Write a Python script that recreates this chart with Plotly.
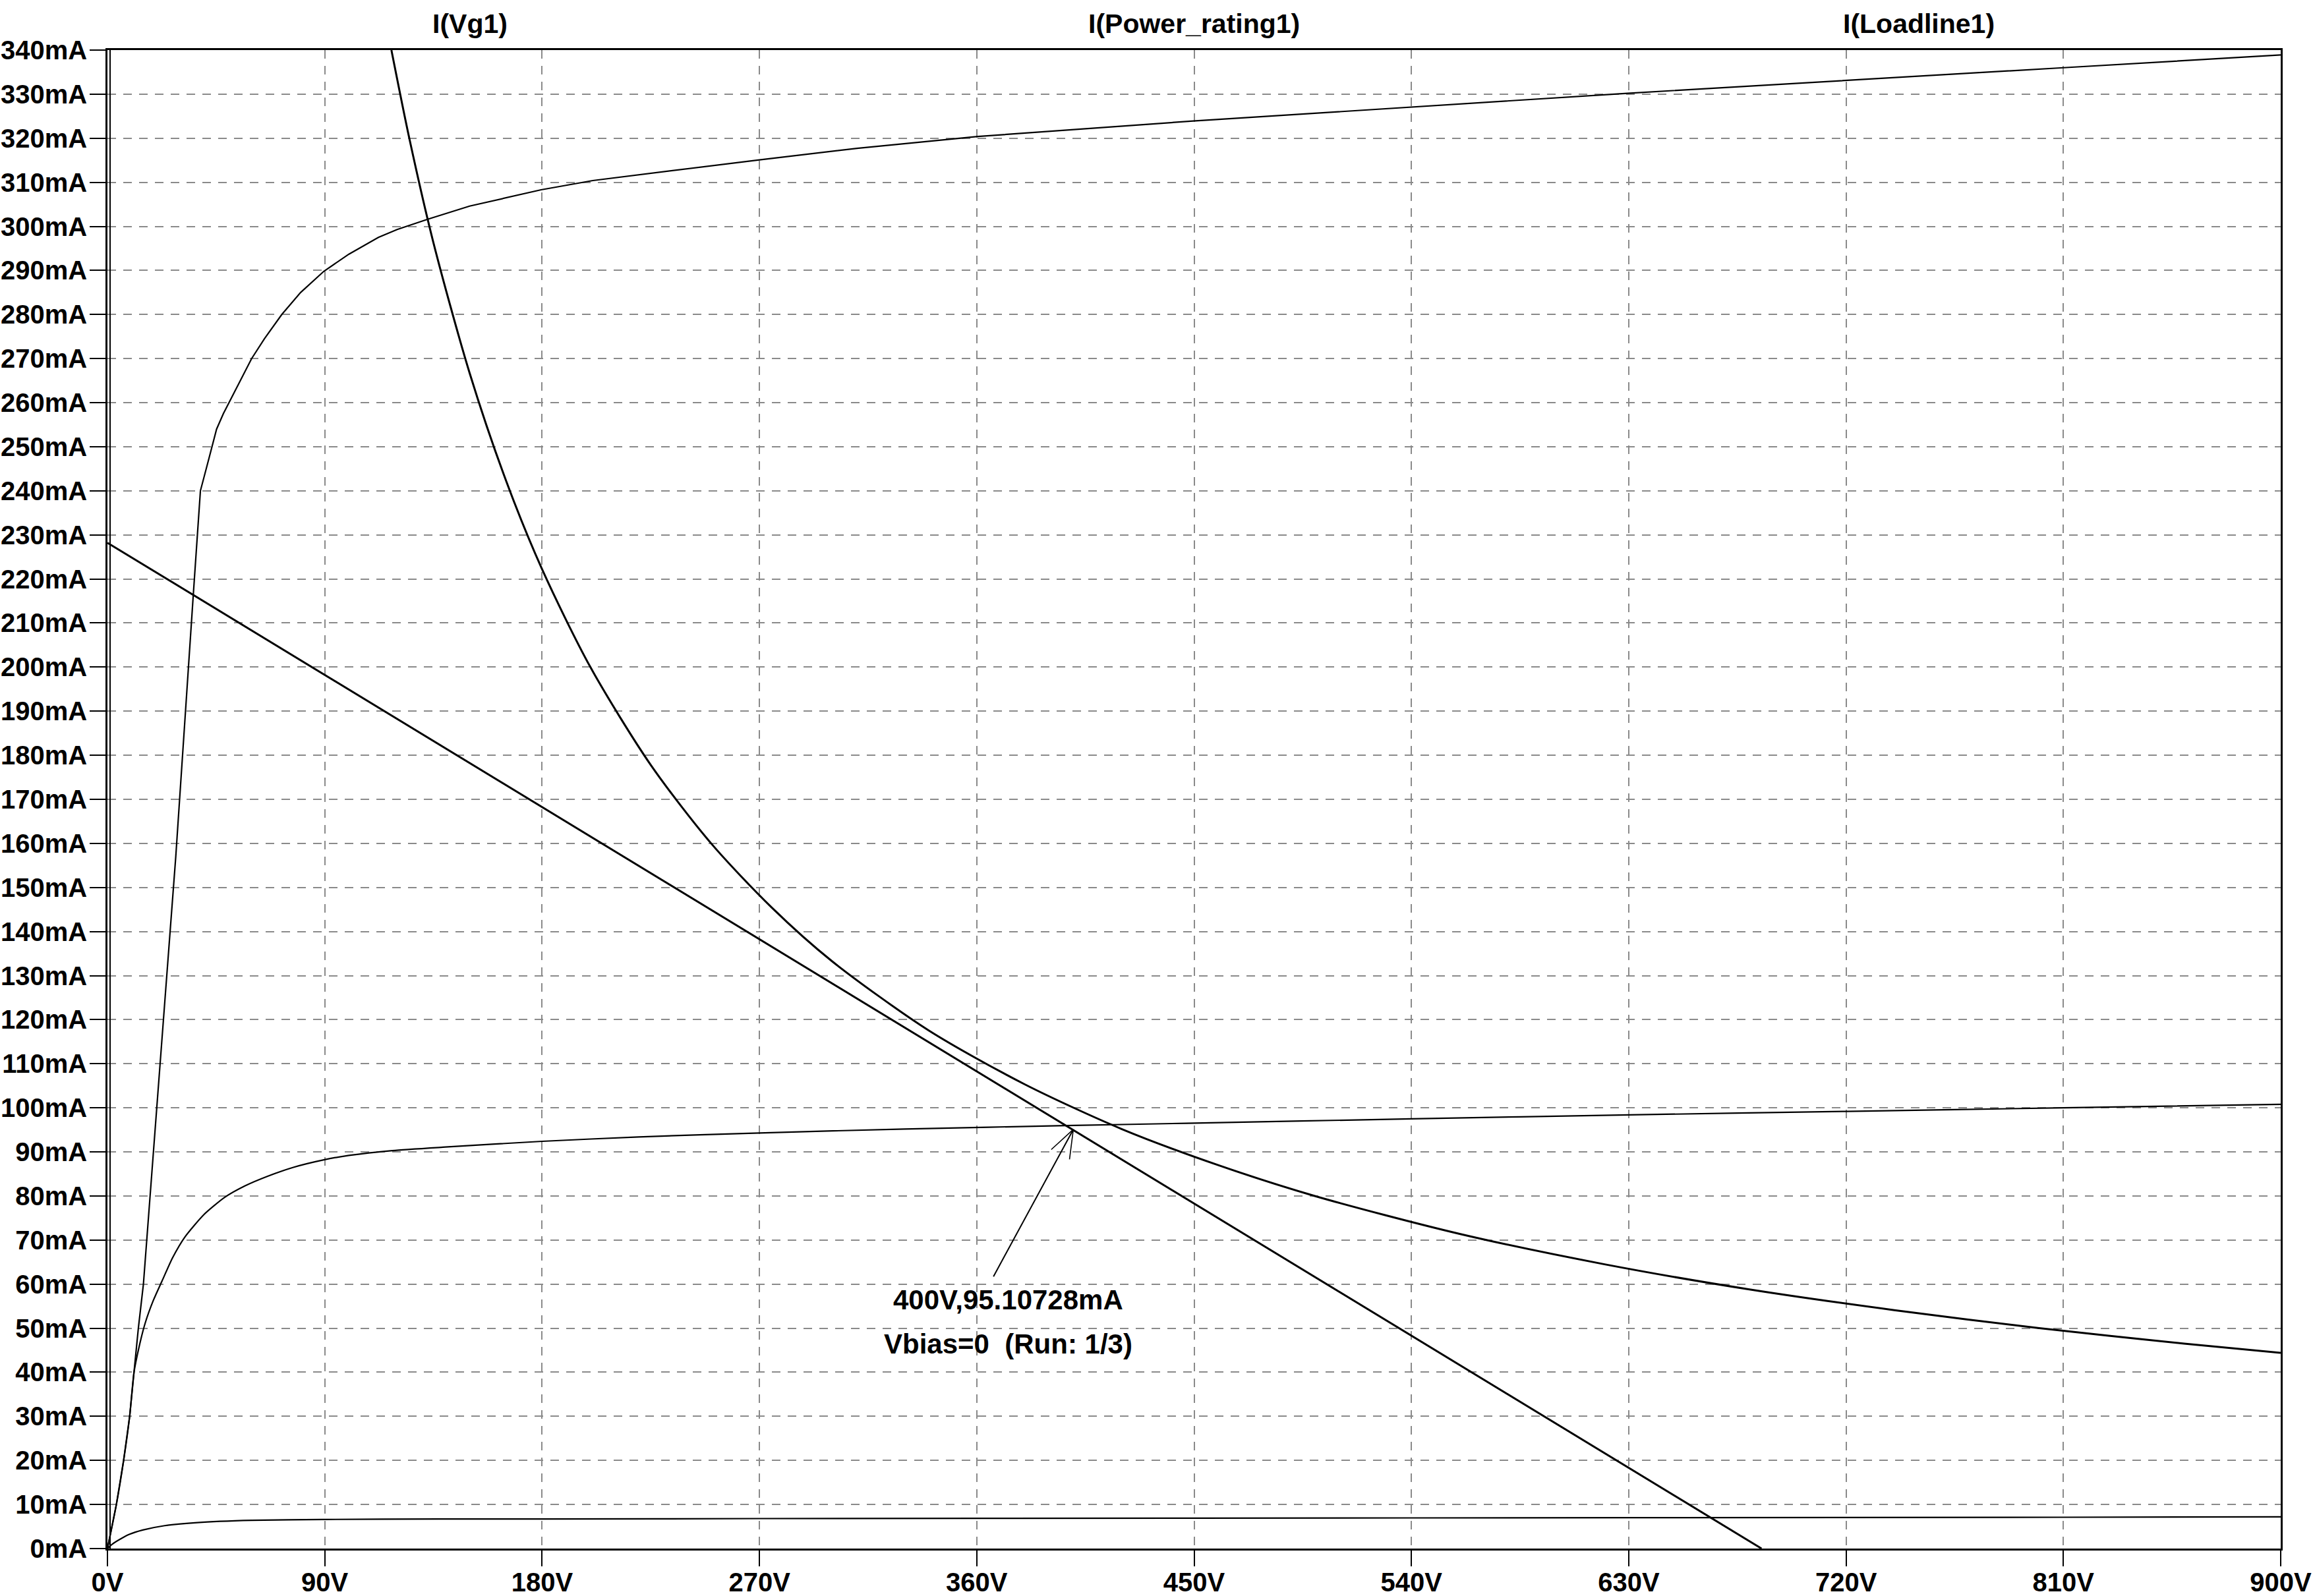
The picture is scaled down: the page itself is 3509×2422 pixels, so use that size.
import plotly.graph_objects as go

# ---- data ----
# highest device curve (I(Vg1))
v_top = [0, 3.7, 6.7, 9.2, 11, 12.8, 14.9, 19.1, 28.3, 35.5, 38.5, 42.1, 45.2, 48, 51.9, 55, 59.7,
         65, 72.2, 80, 89.6, 100, 112.2, 120, 132.6, 150, 179.6, 201, 270, 310.4, 360.4, 449.6,
         539.5, 629.4, 810, 900]
i_top = [0, 10, 20, 30, 40, 50, 60, 90, 157, 216, 240, 247.5, 254, 257.5, 261.6, 265, 270,
         274.5, 280, 285, 289.8, 293.7, 297.5, 299.3, 301.6, 304.6, 308.3, 310.4, 315.1, 317.7,
         320.4, 323.9, 327.1, 330.2, 336, 338.9]

# middle device curve
v_mid = [0, 3.7, 6.7, 9.2, 11, 13, 15.6, 19, 22.6, 27, 32.1, 40, 48.6, 57, 66, 77, 89.6, 100,
         118, 140, 180, 220, 270, 330, 400, 446.9, 540, 630, 720, 810, 900]
i_mid = [0, 10, 20, 30, 40, 45.5, 51.1, 56.3, 60.7, 66, 70.7, 75.8, 79.7, 82.3, 84.4, 86.5, 88.2,
         89.2, 90.3, 91.1, 92.4, 93.4, 94.3, 95.2, 96.0, 96.5, 97.5, 98.4, 99.2, 100.0, 100.8]

# lowest device curve
v_bot = [0, 2, 5.5, 9, 14.6, 23.7, 37.2, 59.8, 89.1, 137.6, 180, 270, 450, 630, 810, 900]
i_bot = [0, 1.0, 2.2, 3.2, 4.2, 5.2, 5.9, 6.4, 6.6, 6.7, 6.7, 6.8, 6.9, 7.0, 7.1, 7.2]

# power rating hyperbola
v_pow = [117.6, 125, 135, 150, 165, 180, 200, 225, 250, 275, 300, 340, 380, 420, 460, 500,
         560, 620, 680, 740, 800, 860, 900]
i_pow = [340, 320, 296.3, 266.7, 242.4, 222.2, 200, 177.8, 160, 145.5, 133.3, 117.6, 105.3,
         95.2, 87.0, 80, 71.4, 64.5, 58.8, 54.1, 50, 46.5, 44.4]

# load line
v_load = [0, 685]
i_load = [228.2, 0]

# cursor
cursor_v = 400
cursor_i = 95.10728
cursor_tail_v = 366.7
cursor_tail_i = 61.5
label_v = 373
label1_i = 56.4
label2_i = 46.4

# axes ticks
x_ticks = list(range(0, 901, 90))
y_ticks = list(range(0, 341, 10))
x_ticktext = [f"{v}V" for v in x_ticks]
y_ticktext = [f"{v}mA" for v in y_ticks]

trace_names = ["I(Vg1)", "I(Power_rating1)", "I(Loadline1)"]
trace_name_pos = [1 / 6, 0.5, 5 / 6]

FONT = "Liberation Sans, Arial, sans-serif"

fig = go.Figure()
thin = dict(color="black", width=2.2)
thick = dict(color="black", width=3)
fig.add_trace(go.Scatter(x=v_top, y=i_top, mode="lines", line=thin, hoverinfo="skip"))
fig.add_trace(go.Scatter(x=v_mid, y=i_mid, mode="lines", line=dict(thin, shape="spline", smoothing=0.6), hoverinfo="skip"))
fig.add_trace(go.Scatter(x=v_bot, y=i_bot, mode="lines", line=dict(thin, shape="spline", smoothing=0.6), hoverinfo="skip"))
fig.add_trace(go.Scatter(x=v_pow, y=i_pow, mode="lines", line=dict(thick, shape="spline", smoothing=0.8), hoverinfo="skip"))
fig.add_trace(go.Scatter(x=v_load, y=i_load, mode="lines", line=thick, hoverinfo="skip"))

axis_common = dict(
    showline=True, linecolor="black", linewidth=2.5, mirror=True,
    ticks="outside", ticklen=24, tickwidth=2, tickcolor="black",
    showgrid=True, gridcolor="#8a8a8a", gridwidth=2, griddash="13px,11px",
    zeroline=False, automargin=False,
    tickfont=dict(family=FONT, size=40, color="black", weight="bold"),
)

fig.update_xaxes(range=[0, 900], tickmode="array", tickvals=x_ticks, ticktext=x_ticktext,
                 ticklabelstandoff=-10, **axis_common)
fig.update_yaxes(range=[0, 340], tickmode="array", tickvals=y_ticks, ticktext=y_ticktext,
                 ticklabelstandoff=-4, **axis_common)

annotations = []
for name, px in zip(trace_names, trace_name_pos):
    annotations.append(dict(
        text=name, x=px, y=1.0176, xref="paper", yref="paper", showarrow=False,
        xanchor="center", yanchor="middle",
        font=dict(family=FONT, size=41, color="black", weight="bold"),
    ))

# cursor arrow shaft
annotations.append(dict(
    x=cursor_v, y=cursor_i, ax=cursor_tail_v, ay=cursor_tail_i, axref="x", ayref="y",
    xref="x", yref="y", text="", showarrow=True, arrowhead=0,
    arrowwidth=2, arrowcolor="black", standoff=0, startstandoff=0,
))
# open arrow head barbs (pixel offsets from the tip)
for bx, by in [(-35, 32), (-6, 47)]:
    annotations.append(dict(
        x=cursor_v, y=cursor_i, ax=bx, ay=by, xref="x", yref="y", text="",
        showarrow=True, arrowhead=0, arrowwidth=1.6, arrowcolor="black",
        standoff=0, startstandoff=0,
    ))
annotations.append(dict(
    text=f"{cursor_v}V,{cursor_i}mA", x=label_v, y=label1_i, xref="x", yref="y",
    showarrow=False, xanchor="center", yanchor="middle",
    font=dict(family=FONT, size=42, color="black", weight="bold"),
))
annotations.append(dict(
    text="Vbias=0\u00a0 (Run: 1/3)", x=label_v, y=label2_i, xref="x", yref="y",
    showarrow=False, xanchor="center", yanchor="middle",
    font=dict(family=FONT, size=42, color="black", weight="bold"),
))

# second thin line just inside the left frame (double edge seen in the reference)
shapes = [dict(type="line", xref="x", xsizemode="pixel", xanchor=0, x0=4, x1=4,
               yref="paper", y0=0, y1=1, line=dict(color="black", width=2))]

fig.update_layout(
    width=3509, height=2422,
    margin=dict(l=163, r=49, t=76, b=72, pad=0),
    paper_bgcolor="white", plot_bgcolor="white",
    showlegend=False,
    annotations=annotations,
    shapes=shapes,
)

fig.write_html("out.html", config={"displayModeBar": False},
               post_script="document.body.style.margin='0px';")
